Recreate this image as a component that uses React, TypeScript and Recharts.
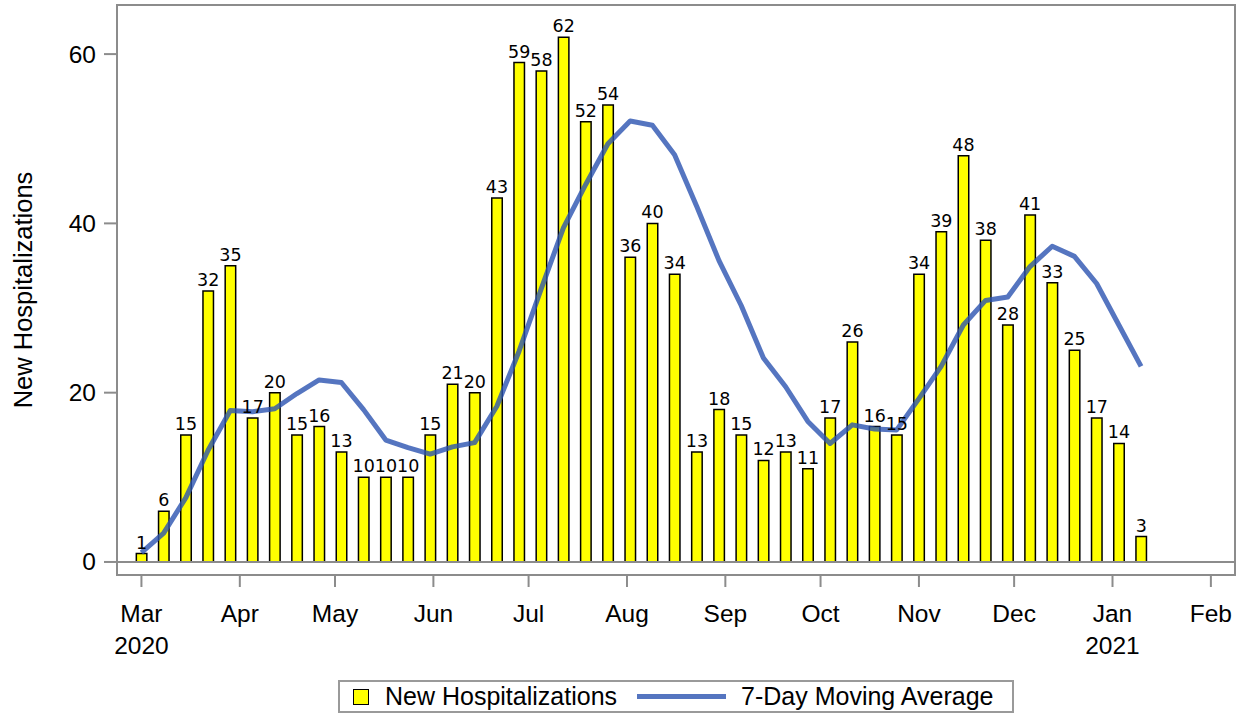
import React from 'react';
import {
  ComposedChart,
  Bar,
  Line,
  XAxis,
  YAxis,
  ReferenceLine,
  ReferenceArea,
  LabelList,
  Legend,
} from 'recharts';

// ---- Data ----
const weekDates = [
  '2020-03-01', '2020-03-08', '2020-03-15', '2020-03-22', '2020-03-29',
  '2020-04-05', '2020-04-12', '2020-04-19', '2020-04-26',
  '2020-05-03', '2020-05-10', '2020-05-17', '2020-05-24', '2020-05-31',
  '2020-06-07', '2020-06-14', '2020-06-21', '2020-06-28',
  '2020-07-05', '2020-07-12', '2020-07-19', '2020-07-26',
  '2020-08-02', '2020-08-09', '2020-08-16', '2020-08-23', '2020-08-30',
  '2020-09-06', '2020-09-13', '2020-09-20', '2020-09-27',
  '2020-10-04', '2020-10-11', '2020-10-18', '2020-10-25',
  '2020-11-01', '2020-11-08', '2020-11-15', '2020-11-22', '2020-11-29',
  '2020-12-06', '2020-12-13', '2020-12-20', '2020-12-27',
  '2021-01-03', '2021-01-10',
];

const newHospitalizations = [
  1, 6, 15, 32, 35, 17, 20, 15, 16, 13, 10, 10, 10, 15, 21, 20, 43, 59, 58, 62,
  52, 54, 36, 40, 34, 13, 18, 15, 12, 13, 11, 17, 26, 16, 15, 34, 39, 48, 38, 28,
  41, 33, 25, 17, 14, 3,
];

const movingAverage = [
  1.1, 3.4, 7.6, 13.2, 17.9, 17.75, 18.1, 19.9, 21.5, 21.2,
  18.0, 14.4, 13.5, 12.75, 13.6, 14.1, 18.4, 24.9, 32.3, 39.5,
  44.6, 49.4, 52.1, 51.6, 48.1, 42.0, 35.6, 30.3, 24.1, 20.7,
  16.6, 14.0, 16.2, 15.7, 15.6, 19.3, 23.1, 28.0, 30.9, 31.3,
  34.9, 37.3, 36.1, 32.9, 28.0, 23.1,
];

const monthTickDates = [
  '2020-03-01', '2020-04-01', '2020-05-01', '2020-06-01', '2020-07-01', '2020-08-01',
  '2020-09-01', '2020-10-01', '2020-11-01', '2020-12-01', '2021-01-01', '2021-02-01',
];
const monthTickLabels = ['Mar', 'Apr', 'May', 'Jun', 'Jul', 'Aug', 'Sep', 'Oct', 'Nov', 'Dec', 'Jan', 'Feb'];
const yearTickLabels = ['2020', '', '', '', '', '', '', '', '', '', '2021', ''];

const yTicks = [0, 20, 40, 60];

// ---- Helpers ----
const ORIGIN = Date.UTC(2020, 2, 1);
const dayNum = (s: string) => {
  const [y, m, d] = s.split('-').map(Number);
  return (Date.UTC(y, m - 1, d) - ORIGIN) / 86400000;
};

const data = weekDates.map((d, i) => ({
  day: dayNum(d),
  hosp: newHospitalizations[i],
  avg: movingAverage[i],
}));

const monthTickDays = monthTickDates.map(dayNum);

const X_MIN = -7.7;
const X_MAX = 344.6;
const Y_MIN = -1.54;
const Y_MAX = 65.8;

const FRAME = '#8c8c8c';
const LINE_COLOR = '#2a52b0';
const AXIS_FONT = 'Liberation Sans, Arial, sans-serif';
const AXIS_SIZE = 24.5;
const LEGEND_SIZE = 25;

const MonthTick = (props: any) => {
  const { x, y, payload } = props;
  const idx = monthTickDays.indexOf(payload.value);
  const m = monthTickLabels[idx] ?? '';
  const yr = yearTickLabels[idx] ?? '';
  return (
    <g>
      <text x={x} y={y + 33} textAnchor="middle" fontFamily={AXIS_FONT} fontSize={AXIS_SIZE} fill="#000">
        {m}
      </text>
      {yr ? (
        <text x={x} y={y + 65} textAnchor="middle" fontFamily={AXIS_FONT} fontSize={AXIS_SIZE} fill="#000">
          {yr}
        </text>
      ) : null}
    </g>
  );
};

const YTick = (props: any) => {
  const { x, y, payload } = props;
  return (
    <text x={x} y={y + 8.5} textAnchor="end" fontFamily={AXIS_FONT} fontSize={AXIS_SIZE} fill="#000">
      {payload.value}
    </text>
  );
};

const YLabel = () => (
  <text
    x={32}
    y={290}
    transform="rotate(-90, 32, 290)"
    textAnchor="middle"
    fontFamily={AXIS_FONT}
    fontSize={25.5}
    fill="#000"
  >
    New Hospitalizations
  </text>
);

const BarValue = (props: any) => {
  const { x, y, width, value } = props;
  return (
    <text
      x={x + width / 2}
      y={y - 5}
      textAnchor="middle"
      fontFamily="DejaVu Sans, Verdana, sans-serif"
      fontSize={17.5}
      fill="#000"
    >
      {value}
    </text>
  );
};

const LegendBox = () => (
  <div
    style={{
      boxSizing: 'border-box',
      width: 676,
      height: 33,
      border: '2px solid #9a9a9a',
      display: 'flex',
      alignItems: 'center',
      fontFamily: AXIS_FONT,
      fontSize: LEGEND_SIZE,
      color: '#000',
      background: '#fff',
    }}
  >
    <div
      style={{
        boxSizing: 'border-box',
        width: 16,
        height: 16,
        background: '#ffff00',
        border: '1.5px solid #000',
        marginLeft: 13,
      }}
    />
    <span style={{ marginLeft: 16, whiteSpace: 'nowrap' }}>New Hospitalizations</span>
    <div
      style={{
        width: 89,
        height: 5,
        background: LINE_COLOR,
        opacity: 0.8,
        marginLeft: 20,
      }}
    />
    <span style={{ marginLeft: 15, whiteSpace: 'nowrap' }}>7-Day Moving Average</span>
  </div>
);

export default function App() {
  return (
    <div style={{ position: 'absolute', left: 0, top: 0, width: 1247, height: 719, background: '#fff' }}>
      <ComposedChart
        width={1247}
        height={719}
        data={data}
        margin={{ top: 5, right: 12, left: 0, bottom: 6 }}
      >
        <ReferenceArea
          x1={X_MIN}
          x2={X_MAX}
          y1={Y_MIN}
          y2={Y_MAX}
          fill="none"
          stroke={FRAME}
          strokeWidth={2}
          ifOverflow="visible"
        />
        <XAxis
          dataKey="day"
          type="number"
          domain={[X_MIN, X_MAX]}
          ticks={monthTickDays}
          allowDataOverflow
          height={105}
          axisLine={false}
          tickLine={{ stroke: FRAME, strokeWidth: 2 }}
          tickSize={12}
          tick={<MonthTick />}
          interval={0}
        />
        <YAxis
          type="number"
          domain={[Y_MIN, Y_MAX]}
          ticks={yTicks}
          allowDataOverflow
          width={117}
          axisLine={false}
          tickLine={{ stroke: FRAME, strokeWidth: 2 }}
          tickSize={13}
          tickMargin={8}
          tick={<YTick />}
          label={<YLabel />}
        />
        <ReferenceLine y={0} stroke={FRAME} strokeWidth={2} />
        <Bar
          dataKey="hosp"
          name="New Hospitalizations"
          fill="#ffff00"
          stroke="#000"
          strokeWidth={1.5}
          barSize={10.5}
          isAnimationActive={false}
        >
          <LabelList dataKey="hosp" content={<BarValue />} />
        </Bar>
        <Line
          dataKey="avg"
          name="7-Day Moving Average"
          type="linear"
          stroke={LINE_COLOR}
          strokeOpacity={0.8}
          strokeWidth={5}
          strokeLinejoin="round"
          dot={false}
          activeDot={false}
          isAnimationActive={false}
        />
        <Legend
          verticalAlign="bottom"
          content={<LegendBox />}
          wrapperStyle={{ left: 338, bottom: 6, width: 676, height: 33 }}
        />
      </ComposedChart>
    </div>
  );
}
